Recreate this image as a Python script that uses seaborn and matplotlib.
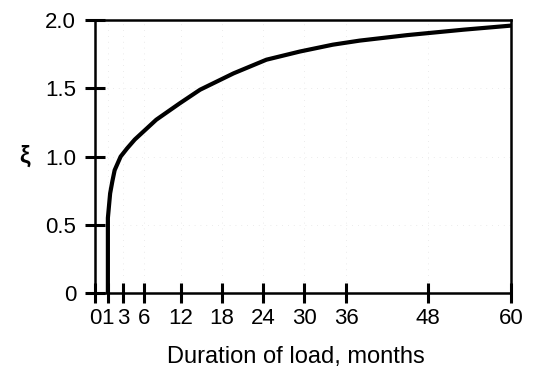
import numpy as np
import pandas as pd
import seaborn as sns
import matplotlib.pyplot as plt

# duration of load (months) and time-dependent factor xi
months = [1, 1, 1.3, 1.6, 1.9, 2.7, 3.6, 4.7, 8, 11.8, 14.8, 19.7, 24.5, 29.4, 34.1, 38, 44.9, 53.1, 60]
xi = [0, 0.55, 0.73, 0.82, 0.9, 1.0, 1.06, 1.125, 1.27, 1.39, 1.49, 1.61, 1.71, 1.77, 1.82, 1.85, 1.89, 1.93, 1.96]

x_ticks = [0, 1, 3, 6, 12, 18, 24, 30, 36, 48, 60]
y_ticks = [0, 0.5, 1.0, 1.5, 2.0]
y_ticklabels = ["0", "0.5", "1.0", "1.5", "2.0"]

# the original axis is not quite linear: tick spacing as drawn on the page
tick_spacing = [0, 13, 28, 49, 86, 127, 168, 209, 251, 333, 416]


def fwd(v):
    return np.interp(v, x_ticks, tick_spacing)


def inv(v):
    return np.interp(v, tick_spacing, x_ticks)


sns.set_style("ticks")
plt.rcParams['font.family'] = ['Liberation Sans', 'DejaVu Sans']
plt.rcParams['text.color'] = 'black'
plt.rcParams['axes.labelcolor'] = 'black'

df = pd.DataFrame({"months": months, "xi": xi})

fig = plt.figure(figsize=(5.33, 3.73), dpi=100)
ax = fig.add_axes([0.178, 0.2145, 0.781, 0.7315])
ax.set_xscale('function', functions=(fwd, inv))

ax.grid(True, color='#e4e4e4', linestyle=(0, (1, 6)), linewidth=0.6)
sns.lineplot(data=df, x="months", y="xi", ax=ax, color='black', linewidth=3,
             estimator=None, sort=False)

ax.set_xlim(0, 60)
ax.set_ylim(0, 2.0)
ax.set_xticks(x_ticks)
ax.set_xticklabels([str(t) for t in x_ticks])
ax.xaxis.set_minor_locator(plt.NullLocator())
ax.set_yticks(y_ticks)
ax.set_yticklabels(y_ticklabels)

for s in ax.spines.values():
    s.set_linewidth(1.8)
    s.set_color('black')
ax.tick_params(direction='inout', length=15, width=2.2, labelsize=16,
               colors='black', labelcolor='black')
ax.tick_params(axis='y', pad=6)
ax.tick_params(axis='x', pad=3)

ax.set_xlabel("Duration of load, months", fontsize=17, color='black')
ax.xaxis.set_label_coords(0.483, -0.195)
ax.set_ylabel("ξ", fontsize=17, rotation=0, fontweight='bold', va='center', color='black')
ax.yaxis.set_label_coords(-0.17, 0.5)

fig.savefig("out.png", dpi=100)
